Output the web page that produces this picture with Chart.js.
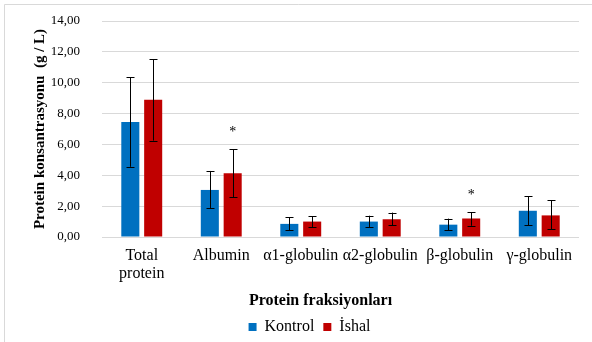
<!DOCTYPE html>
<html>
<head>
<meta charset="utf-8">
<script src="https://cdn.jsdelivr.net/npm/chart.js@4"></script>
<style>
  html, body { margin: 0; padding: 0; background: #fff; }
  #wrap { width: 592px; height: 342px; }
</style>
</head>
<body>
<div id="wrap"><canvas id="c"></canvas></div>
<script>
const categories = [['Total', 'protein'], 'Albumin', 'α1-globulin', 'α2-globulin', 'β-globulin', 'γ-globulin'];

const kontrol = [7.45, 3.05, 0.85, 1.00, 0.80, 1.70];
const kontrolLow = [4.55, 1.88, 0.45, 0.65, 0.45, 0.76];
const kontrolHigh = [10.35, 4.28, 1.28, 1.38, 1.19, 2.64];

const ishal = [8.90, 4.13, 1.00, 1.15, 1.20, 1.40];
const ishalLow = [6.25, 2.57, 0.65, 0.76, 0.73, 0.50];
const ishalHigh = [11.52, 5.68, 1.34, 1.58, 1.60, 2.38];

// significant difference marks (İshal vs Kontrol)
const ishalSignificant = [false, true, false, false, true, false];

const yTicks = [0, 2, 4, 6, 8, 10, 12, 14];

const serif = "'Liberation Serif', 'Times New Roman', serif";
Chart.defaults.font.family = serif;
Chart.defaults.color = '#000';

const errorBars = {
  id: 'errorBars',
  afterDatasetsDraw(chart) {
    const ctx = chart.ctx;
    const y = chart.scales.y;
    ctx.save();
    ctx.strokeStyle = '#000';
    ctx.lineWidth = 1;
    chart.data.datasets.forEach((ds, di) => {
      const meta = chart.getDatasetMeta(di);
      meta.data.forEach((bar, i) => {
        const x = Math.round(bar.x) + 0.5;
        const top = y.getPixelForValue(ds.high[i]);
        const bot = y.getPixelForValue(ds.low[i]);
        ctx.beginPath();
        ctx.moveTo(x, top);
        ctx.lineTo(x, bot);
        ctx.moveTo(x - 4, Math.round(top) + 0.5);
        ctx.lineTo(x + 4, Math.round(top) + 0.5);
        ctx.moveTo(x - 4, Math.round(bot) + 0.5);
        ctx.lineTo(x + 4, Math.round(bot) + 0.5);
        ctx.stroke();
        if (ds.significant && ds.significant[i]) {
          ctx.fillStyle = '#000';
          ctx.font = '14px ' + serif;
          ctx.textAlign = 'center';
          ctx.textBaseline = 'middle';
          ctx.fillText('*', bar.x, top - 17);
        }
      });
    });
    ctx.restore();
  }
};

const frame = {
  id: 'frame',
  beforeDraw(chart) {
    const ctx = chart.ctx;
    ctx.save();
    ctx.fillStyle = '#fff';
    ctx.fillRect(0, 0, chart.width, chart.height);
    ctx.strokeStyle = '#d9d9d9';
    ctx.lineWidth = 1;
    ctx.beginPath();
    ctx.moveTo(4.5, chart.height);
    ctx.lineTo(4.5, 4.5);
    ctx.lineTo(chart.width, 4.5);
    ctx.stroke();
    ctx.restore();
  }
};

// legend sits a bit right of the canvas centre in the original
const legendShift = {
  id: 'legendShift',
  afterLayout(chart) {
    chart.legend.left += 15;
    chart.legend.right += 15;
  }
};

new Chart(document.getElementById('c'), {
  type: 'bar',
  data: {
    labels: categories,
    datasets: [
      {
        label: 'Kontrol',
        data: kontrol,
        low: kontrolLow,
        high: kontrolHigh,
        backgroundColor: '#0070C0',
      },
      {
        label: 'İshal',
        data: ishal,
        low: ishalLow,
        high: ishalHigh,
        significant: ishalSignificant,
        backgroundColor: '#C00000',
      },
    ],
  },
  options: {
    responsive: true,
    maintainAspectRatio: false,
    animation: false,
    categoryPercentage: 0.575,
    barPercentage: 0.79,
    layout: { padding: { left: 10, right: 13, top: 21, bottom: -3 } },
    plugins: {
      tooltip: { enabled: false },
      legend: {
        position: 'bottom',
        labels: {
          boxWidth: 8,
          boxHeight: 8,
          padding: 9,
          color: '#000',
          font: { family: serif, size: 16 },
        },
      },
    },
    scales: {
      x: {
        grid: { display: false },
        border: { display: false },
        ticks: {
          color: '#000',
          padding: 2,
          maxRotation: 0,
          autoSkip: false,
          font: { family: serif, size: 16, lineHeight: 1.1 },
        },
        title: {
          display: true,
          // trailing spaces pull the centred title left, as in the original
          text: 'Protein fraksiyonları' + '\u00a0'.repeat(10),
          color: '#000',
          padding: { top: 0, bottom: 0 },
          font: { family: serif, size: 16, weight: 'bold' },
        },
        afterFit(s) { s.height = 73; },
      },
      y: {
        min: 0,
        max: 14,
        afterBuildTicks(s) { s.ticks = yTicks.map(v => ({ value: v })); },
        grid: { color: '#d9d9d9', drawTicks: false },
        border: { display: false },
        ticks: {
          color: '#000',
          padding: 22,
          font: { family: serif, size: 13 },
          callback: v => v.toFixed(2).replace('.', ','),
        },
        title: {
          display: true,
          text: 'Protein konsantrasyonu  (g / L)',
          color: '#000',
          padding: { top: 21, bottom: 0 },
          font: { family: serif, size: 15, weight: 'bold' },
        },
        afterFit(s) {
          s.width = 92;
          s.paddingTop = 0;
          s.paddingBottom = 0;
        },
      },
    },
  },
  plugins: [frame, errorBars, legendShift],
});
</script>
</body>
</html>
